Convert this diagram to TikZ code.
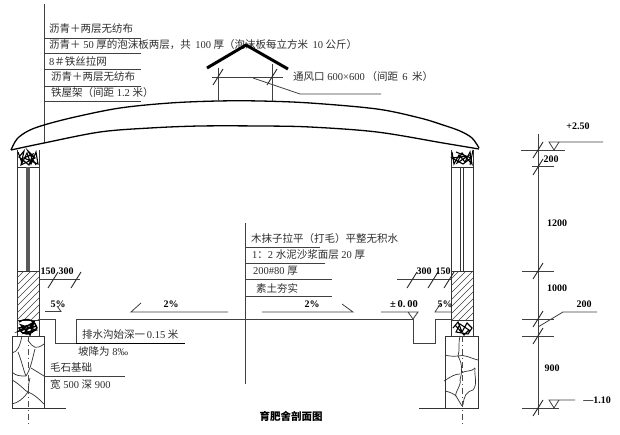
\documentclass[tikz,border=0pt]{standalone}
\usepackage{fontspec}
\setmainfont{Liberation Serif}
\newfontfamily\cjk{Noto Sans CJK SC}
\tikzset{
 zh/.style={inner sep=0pt,anchor=west,text=black!82,font=\fontsize{10.5}{12}\selectfont},
 dimlbl/.style={inner sep=0pt,text=black,font=\bfseries\fontsize{10}{12}\selectfont},
 thin line/.style={draw=black!75,line width=0.8pt},
 wall/.style={draw=black!80,line width=0.8pt},
 heavy/.style={draw=black,line width=1.3pt},
 stone/.style={draw=black!80,line width=0.7pt},
 slash/.style={draw=black!85,line width=0.9pt},
 mess/.style={draw=black,line width=1.1pt},
 center line/.style={draw=black!70,line width=0.6pt,dash pattern=on 6pt off 3pt on 1pt off 3pt},
}
\newcommand{\tick}[2]{\draw[slash] (#1-5,#2+8) -- (#1+5,#2-8);}
\begin{document}
\begin{tikzpicture}[x=1pt,y=-1pt]
\useasboundingbox[fill=white] (0,0) rectangle (620,435);

% left text stack
\draw[thin line] (44,4) -- (44,143);
\foreach \y in {38,53,69,86,101} \draw[thin line] (44,\y) -- (141,\y);
\node[zh] (t1) at (49,29) {{\cjk 沥青＋两层无纺布}};
\node[zh] (t2) at (49,45) {{\cjk 沥青＋} 50 {\cjk 厚的泡沫板两层，共}\, 100 {\cjk 厚（泡沫板每立方米}\, 10 {\cjk 公斤）}};
\node[zh] (t3) at (49,61) {8{\cjk ＃铁丝拉网}};
\node[zh] (t4) at (51,77) {{\cjk 沥青＋两层无纺布}};
\node[zh] (t5) at (51,93) {{\cjk 铁屋架（间距} 1.2 {\cjk 米）}};

% roof
\draw[heavy,line join=round] plot[smooth,tension=0.55] coordinates {(11,150) (17,139) (28,131) (44,125) (75,117) (120,108) (170,103) (218,101) (260,101) (310,103) (377,109) (420,118) (443,125) (460,131) (472,138) (479,148)};
\draw[heavy,line join=round] plot[smooth,tension=0.55] coordinates {(11,150) (44,143) (100,132) (150,128) (200,126) (260,126) (310,127) (377,132) (443,143) (479,149)};

% vent
\draw[thin line] (218,68) -- (218,101);
\draw[thin line] (272,64) -- (272,101);
\draw[thin line] (212,77.5) -- (283,77.5);
\tick{218}{77}
\tick{272}{77}
\draw[thin line] (253,78) -- (300,94) -- (381,94);
\draw[draw=black,line width=3pt,line join=miter] (207,68) -- (246,45) -- (288,69);
\node[zh] (t6) at (293,77) {{\cjk 通风口} 600×600\,{\cjk （间距}\, 6\, {\cjk 米）}};

% left wall
\draw[wall] (17,150) -- (17,336);
\draw[wall] (39,150) -- (39,336);
\draw[wall] (17,167) -- (39,167);
\draw[wall] (17,271) -- (39,271);
\draw[wall] (17,320) -- (39,320);
\draw[draw=black!65,line width=3.5pt] (28,167) -- (28,271);
\begin{scope}
\clip (17,271) rectangle (39,320);
\foreach \k in {0,7,...,84} \draw[draw=black!75,line width=0.6pt] (10,271+\k) -- (42,271+\k-32);
\end{scope}
\draw[mess] (18,152) -- (22,163) -- (27,153) -- (31,164) -- (36,152) -- (38,164) -- (24,158) -- (33,154) -- (29,165) -- (19,157) -- (24,151) -- (21,165) -- (35,158) -- (28,151) -- (36,165);
\draw[mess,line width=1.4pt] (19,322) .. controls (28,316) and (36,322) .. (37,328) .. controls (30,336) and (22,336) .. (19,328) -- (33,324) -- (24,333) -- (36,330) -- (21,325) -- (30,335) -- (34,322) -- (19,331) -- (37,326);
% left foundation
\draw[wall] (12,336) rectangle (44,408);
\draw[wall] (12,408) -- (66,408);
\draw[stone] (22,336) .. controls (20,345) and (18,352) .. (12,353);
\draw[stone] (18,352) .. controls (22,362) and (24,372) .. (26,376);
\draw[stone] (26,376) .. controls (20,376) and (16,376) .. (12,372);
\draw[stone] (28,340) .. controls (33,348) and (36,350) .. (44,344);
\draw[stone] (35,349) .. controls (32,360) and (31,368) .. (26,376);
\draw[stone] (31,368) -- (44,376);
\draw[stone] (12,380) .. controls (20,384) and (26,392) .. (28,392);
\draw[stone] (30,378) .. controls (28,384) and (29,388) .. (28,392);
\draw[stone] (28,392) .. controls (34,394) and (40,400) .. (44,404);
\draw[stone] (28,392) .. controls (24,398) and (18,403) .. (12,404);
\draw[center line] (28,336) -- (28,424);

% right wall
\draw[wall] (451,150) -- (451,336);
\draw[wall] (473,150) -- (473,336);
\draw[wall] (451,167) -- (473,167);
\draw[wall] (451,271) -- (473,271);
\draw[wall] (451,320) -- (473,320);
\draw[draw=black!80,line width=0.9pt] (460,167) -- (460,271);
\draw[draw=black!80,line width=0.9pt] (463.5,167) -- (463.5,271);
\begin{scope}
\clip (451,271) rectangle (473,320);
\foreach \k in {0,7,...,84} \draw[draw=black!75,line width=0.6pt] (445,271+\k) -- (477,271+\k-32);
\end{scope}
\draw[mess] (452,152) -- (454,164) -- (459,155) -- (465,162) -- (470,152) -- (472,164) -- (462,153) -- (457,163) -- (468,156) -- (452,158) -- (463,164) -- (471,158) -- (456,152);
\draw[mess] (453,328) -- (458,322) -- (462,332) -- (467,323) -- (472,328) -- (468,334) -- (456,332) -- (460,324) -- (469,330) -- (464,335) -- (455,325);
\draw[heavy,line width=1pt] (473,150) -- (470,165);
% right foundation
\draw[wall] (445,336) rectangle (478,408);
\draw[wall] (419,408) -- (478,408);
\draw[stone] (460,336) .. controls (458,345) and (460,350) .. (458,356);
\draw[stone] (445,355) .. controls (452,357) and (456,356) .. (458,356);
\draw[stone] (458,356) .. controls (464,354) and (470,358) .. (478,360);
\draw[stone] (458,356) .. controls (463,365) and (462,372) .. (460,380);
\draw[stone] (444,381) .. controls (452,376) and (455,374) .. (460,374);
\draw[stone] (460,380) .. controls (462,384) and (454,394) .. (456,396);
\draw[stone] (445,391) .. controls (450,392) and (454,394) .. (456,396);
\draw[stone] (461,373) .. controls (466,370) and (472,372) .. (475,368);
\draw[stone] (475,368) .. controls (474,376) and (478,384) .. (473,390);
\draw[stone] (473,390) .. controls (466,392) and (464,396) .. (463,405);
\draw[stone] (456,396) -- (462,406);
\draw[center line] (462,336) -- (462,424);

% floor and drains
\draw[thin line] (39,319) -- (55,319) -- (55,343) -- (76,343);
\draw[thin line] (76,343) -- (76,319) -- (413,319) -- (413,343) -- (435,343) -- (435,319) -- (451,319);
\draw[heavy] (76,343.5) -- (185,343.5);
\draw[thin line] (44,376) -- (125,376);
% slope marks
\draw[thin line] (45,311.5) -- (61,311.5) -- (57,306);
\draw[thin line] (141,303) -- (131,312) -- (228,312);
\draw[thin line] (262,312) -- (353,312) -- (342,304);
\draw[thin line] (441,303) -- (435,312) -- (451,312);
\draw[thin line] (381,312) -- (418,312) -- (413,319) -- (408,312);
\node[dimlbl] (s1) at (58,304) {5\%};
\node[dimlbl] (s2) at (171,304) {2\%};
\node[dimlbl] (s3) at (312,304) {2\%};
\node[dimlbl] (s4) at (445,304) {5\%};
\node[dimlbl,font=\bfseries\fontsize{10.5}{12}\selectfont] (s5) at (404,304) {±\,0.\,00};

% left dims
\draw[thin line] (39,279.5) -- (80,279.5);
\tick{53}{280}
\tick{76}{280}
\node[dimlbl] (d1) at (48,271) {150};
\node[dimlbl] (d2) at (66,271) {300};
% right dims
\draw[thin line] (397,279.5) -- (451,279.5);
\tick{412}{280}
\tick{433}{280}
\tick{449}{280}
\node[dimlbl] (d3) at (424,271) {300};
\node[dimlbl] (d4) at (443,271) {150};

% drain labels
\node[zh] (t7) at (82,335) {{\cjk 排水沟始深一}\,0.15 {\cjk 米}};
\node[zh] (t8) at (78,352) {{\cjk 坡降为} 8‰};
\node[zh] (t9) at (50,368) {{\cjk 毛石基础}};
\node[zh] (t10) at (50,385) {{\cjk 宽} 500 {\cjk 深} 900};

% centre stack
\draw[thin line] (245,223) -- (245,384);
\draw[thin line] (245,247) -- (320,247);
\draw[thin line] (245,263) -- (325,263);
\draw[thin line] (245,279) -- (332,279);
\draw[thin line] (245,296) -- (332,296);
\node[zh] (t11) at (251,239) {{\cjk 木抹子拉平（打毛）平整无积水}};
\node[zh] (t12) at (252,255) {1{\cjk ：}2 {\cjk 水泥沙浆面层} 20 {\cjk 厚}};
\node[zh] (t13) at (253,271) {200\#80 {\cjk 厚}};
\node[zh] (t14) at (256,288) {{\cjk 素土夯实}};

% dimension column
\draw[thin line] (538,134) -- (538,415);
\draw[thin line] (521,150) -- (565,150);
\draw[thin line] (532,166) -- (554,166);
\draw[thin line] (522,271.5) -- (554,271.5);
\draw[thin line] (522,319.5) -- (554,319.5);
\draw[thin line] (522,336) -- (554,336);
\draw[thin line] (522,408) -- (559,408);
\tick{538}{150}
\tick{538}{167}
\tick{538}{271}
\tick{538}{319}
\tick{538}{336}
\tick{538}{408}
\draw[thin line] (603,142) -- (549,142) -- (554,150) -- (559,142);
\draw[thin line] (575,400) -- (549,400) -- (554,408) -- (559,400);
\draw[thin line] (538,327) -- (563,312) -- (597,312);
\node[dimlbl] (e1) at (578,126) {+2.50};
\node[dimlbl] (e2) at (551,159) {200};
\node[dimlbl] (e3) at (557,223) {1200};
\node[dimlbl] (e4) at (557,288) {1000};
\node[dimlbl] (e5) at (584,304) {200};
\node[dimlbl] (e6) at (552,368) {900};
\node[dimlbl] (e7) at (597,400) {—1.10};

% title
\node[inner sep=0pt,font=\cjk\bfseries\fontsize{10.5}{12}\selectfont] (title) at (291,416) {育肥舍剖面图};
\end{tikzpicture}
\end{document}
